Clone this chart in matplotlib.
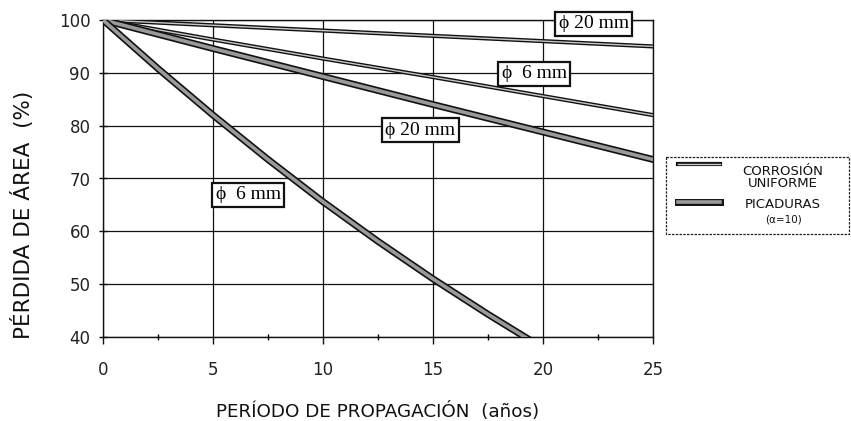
import matplotlib
matplotlib.use("Agg")
import matplotlib.pyplot as plt
import matplotlib.patheffects as pe
from matplotlib.lines import Line2D
from matplotlib.patches import Rectangle

# Propagation period (years) and remaining area (%)
t_uniform = [0, 5, 10, 15, 20, 25]
uniform_20 = [100, 99.0, 98.0, 97.0, 96.0, 95.0]
uniform_6 = [100, 96.3, 92.7, 89.2, 85.6, 82.0]

t_pit20 = [0, 5, 10, 15, 20, 25]
pitting_20 = [100, 94.6, 89.3, 84.0, 78.8, 73.6]

t_pit6 = [0, 2.5, 5, 7.5, 10, 12.5, 15, 17.5, 19.3]
pitting_6 = [100, 90.8, 82.0, 73.6, 65.6, 58.1, 51.0, 44.3, 39.7]

x_ticks = [0, 5, 10, 15, 20, 25]
y_ticks = [40, 50, 60, 70, 80, 90, 100]

# (text, x, y) for the diameter tags
tags = [("ϕ 20 mm", 22.3, 99.3),
        ("ϕ  6 mm", 19.6, 89.8),
        ("ϕ 20 mm", 14.43, 79.1),
        ("ϕ  6 mm", 6.61, 66.9)]

plt.rcParams['font.family'] = ['DejaVu Sans']

W, H = 851, 421
fig = plt.figure(figsize=(W / 100, H / 100), dpi=100)
ax = fig.add_axes([103 / W, 1 - 337 / H, 550 / W, 317 / H])

ax.set_xlim(0, 25)
ax.set_ylim(40, 100)
ax.set_xticks(x_ticks)
ax.set_yticks(y_ticks)
ax.set_xticks([2.5, 7.5, 12.5, 17.5, 22.5], minor=True)
ax.tick_params(axis='both', which='major', labelsize=12, length=6,
               width=1, color='#111111', labelcolor='#222222')
ax.tick_params(axis='y', which='major', direction='inout', pad=6)
ax.tick_params(axis='x', which='major', direction='out', length=5, pad=12)
ax.tick_params(axis='x', which='minor', length=5, width=1, direction='inout')
ax.grid(True, which='major', color='#111111', lw=0.9)
ax.set_axisbelow(True)
for s in ax.spines.values():
    s.set_color('#111111')
    s.set_linewidth(1.0)

uni_fx = [pe.Stroke(linewidth=3.0, foreground='#111111'), pe.Normal()]
pit_fx = [pe.Stroke(linewidth=5.0, foreground='#111111'), pe.Normal()]

ax.plot(t_uniform, uniform_20, color='#c8c8c8', lw=1.0, path_effects=uni_fx, zorder=3)
ax.plot(t_uniform, uniform_6, color='#c8c8c8', lw=1.0, path_effects=uni_fx, zorder=3)
ax.plot(t_pit20, pitting_20, color='#9a9a9a', lw=2.6, path_effects=pit_fx, zorder=3)
ax.plot(t_pit6, pitting_6, color='#9a9a9a', lw=2.6, path_effects=pit_fx, zorder=3)

for text, x, y in tags:
    ax.text(x, y, text, ha='center', va='center', fontsize=14,
            family=['Liberation Serif', 'DejaVu Serif'], zorder=5, clip_on=False,
            bbox=dict(boxstyle='square,pad=0.18', fc='white', ec='#111111', lw=1.6))

ax.set_ylabel("PÉRDIDA DE ÁREA  (%)", fontsize=15.5, color='#111111')
ax.yaxis.set_label_coords(-0.125, 0.385)
ax.set_xlabel("PERÍODO DE PROPAGACIÓN  (años)", fontsize=13.2, labelpad=17,
              color='#111111')

# Key box on the right
lg = fig.add_axes([0, 0, 1, 1], facecolor='none')
lg.set_xlim(0, W)
lg.set_ylim(H, 0)
lg.axis('off')
lg.add_patch(Rectangle((666, 157), 183, 77, fill=False, ec='#222222', lw=0.9, ls=(0, (2, 1))))
lg.add_line(Line2D([678, 720], [164, 164], color='#c8c8c8', lw=1.0, path_effects=uni_fx))
lg.add_line(Line2D([678, 720], [202, 202], color='#9a9a9a', lw=2.6, path_effects=pit_fx))
lg.text(783, 177.5, "CORROSIÓN\nUNIFORME", ha='center', va='center', fontsize=9.5,
        linespacing=0.85, color='#111111')
lg.text(783, 204, "PICADURAS", ha='center', va='center', fontsize=9.5, color='#111111')
lg.text(783, 220, "(α=10)", ha='center', va='center', fontsize=7.5, color='#111111')

fig.savefig("out.png", dpi=100)
